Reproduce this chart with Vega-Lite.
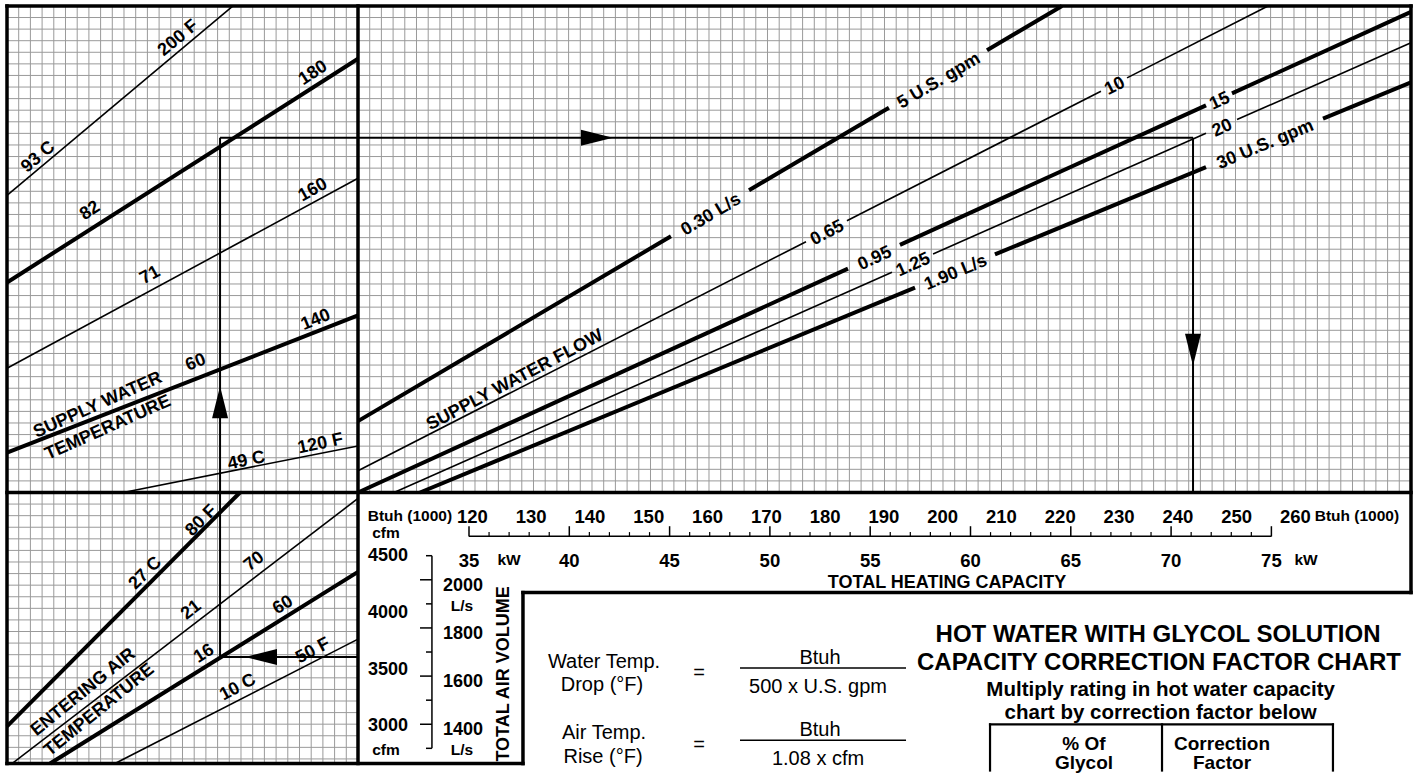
{
"$schema":"https://vega.github.io/schema/vega-lite/v6.json",
"width":1421,"height":773,
"autosize":{"type":"fit","contains":"padding"},
"padding":0,
"background":"white",
"config":{"view":{"stroke":null},"text":{"font":"Liberation Sans"}},
"resolve":{"scale":{"x":"independent","y":"independent"}},
"datasets":{
"frame":[
{"x":0,"y":0,"x2":120,"y2":0},{"x":0,"y":0,"x2":0,"y2":65.4},{"x":120,"y":0,"x2":120,"y2":50.64},
{"x":30,"y":0,"x2":30,"y2":65.4},{"x":0,"y":42,"x2":120,"y2":42},{"x":44.1,"y":50.64,"x2":120,"y2":50.64},
{"x":44.1,"y":50.64,"x2":44.1,"y2":65.4},{"x":0,"y":65.4,"x2":44.1,"y2":65.4}],
"curves":[
{"line":"200 F","w":"light","x":0,"y":16.36,"x2":19.32,"y2":0},
{"line":"180 F","w":"heavy","x":0,"y":23.87,"x2":30,"y2":4.56},
{"line":"160 F","w":"light","x":0,"y":31.28,"x2":30,"y2":14.88},
{"line":"140 F","w":"heavy","x":0,"y":38.55,"x2":30,"y2":26.72},
{"line":"120 F","w":"light","x":9.94,"y":42,"x2":30,"y2":37.98},
{"line":"80 F","w":"heavy","x":0,"y":62.19,"x2":19.91,"y2":42},
{"line":"70 F","w":"light","x":0.43,"y":65.4,"x2":30,"y2":42.51},
{"line":"60 F","w":"heavy","x":3.68,"y":65.4,"x2":30,"y2":48.85},
{"line":"50 F","w":"light","x":9.23,"y":65.4,"x2":30,"y2":54.66},
{"line":"5 gpm","w":"heavy","x":30,"y":35.84,"x2":56.75,"y2":19.88},
{"line":"5 gpm","w":"heavy","x":63.42,"y":15.91,"x2":75.38,"y2":8.79},
{"line":"5 gpm","w":"heavy","x":83.76,"y":3.82,"x2":90.17,"y2":0},
{"line":"10 gpm","w":"light","x":30,"y":40.12,"x2":68.29,"y2":20.35},
{"line":"10 gpm","w":"light","x":71.79,"y":18.54,"x2":93.5,"y2":7.36},
{"line":"10 gpm","w":"light","x":95.73,"y":6.21,"x2":107.78,"y2":0},
{"line":"15 gpm","w":"heavy","x":30,"y":42,"x2":71.88,"y2":22.67},
{"line":"15 gpm","w":"heavy","x":76.32,"y":20.62,"x2":102.48,"y2":8.58},
{"line":"15 gpm","w":"heavy","x":104.7,"y":7.55,"x2":120,"y2":0.51},
{"line":"20 gpm","w":"light","x":33.08,"y":42,"x2":75.64,"y2":22.99},
{"line":"20 gpm","w":"light","x":79.15,"y":21.42,"x2":102.48,"y2":10.99},
{"line":"20 gpm","w":"light","x":105.13,"y":9.81,"x2":120,"y2":3.17},
{"line":"30 gpm","w":"heavy","x":35.3,"y":42,"x2":77.61,"y2":24.31},
{"line":"30 gpm","w":"heavy","x":84.44,"y":21.45,"x2":102.48,"y2":13.91},
{"line":"30 gpm","w":"heavy","x":112.48,"y":9.73,"x2":120,"y2":6.59}],
"guide":[
{"x":18.21,"y":11.38,"x2":18.21,"y2":56.2},{"x":18.21,"y":11.38,"x2":101.37,"y2":11.38},
{"x":101.37,"y":11.38,"x2":101.37,"y2":42},{"x":18.21,"y":56.2,"x2":30,"y2":56.2}],
"arrows":[{"dir":"right","x":50.43,"y":11.38},{"dir":"up","x":18.21,"y":34.22},{"dir":"left","x":21.71,"y":56.2},{"dir":"down","x":101.37,"y":29.68}],
"thin":[
{"x":62.65,"y":57.14,"x2":76.84,"y2":57.14},{"x":62.65,"y":63.39,"x2":76.84,"y2":63.39}],
"table":[
{"x":84.02,"y":62.02,"x2":113.33,"y2":62.02},{"x":84.02,"y":62.02,"x2":84.02,"y2":66},
{"x":98.72,"y":62.02,"x2":98.72,"y2":66},{"x":113.33,"y":62.02,"x2":113.33,"y2":66}],
"labels":[
{"t":"200 F","x":14.53,"y":2.65,"a":320},
{"t":"93 C","x":2.56,"y":12.92,"a":320},
{"t":"180","x":26.07,"y":5.65,"a":327},
{"t":"82","x":7.01,"y":17.54,"a":327},
{"t":"160","x":26.07,"y":15.74,"a":331},
{"t":"71","x":12.14,"y":23.1,"a":331},
{"t":"140","x":26.32,"y":26.95,"a":338},
{"t":"60","x":16.07,"y":30.62,"a":338},
{"t":"SUPPLY WATER","x":7.69,"y":34.3,"a":336},
{"t":"TEMPERATURE","x":8.55,"y":36.27,"a":336},
{"t":"49 C","x":20.43,"y":39.09,"a":348},
{"t":"120 F","x":26.75,"y":37.64,"a":348},
{"t":"80 F","x":16.5,"y":44.31,"a":315},
{"t":"27 C","x":11.71,"y":48.85,"a":315},
{"t":"70","x":21.03,"y":47.82,"a":322},
{"t":"21","x":15.64,"y":52.01,"a":322},
{"t":"60","x":23.5,"y":51.58,"a":327.5},
{"t":"16","x":16.75,"y":55.77,"a":327.5},
{"t":"50 F","x":26.07,"y":55.52,"a":332},
{"t":"10 C","x":19.66,"y":58.68,"a":332},
{"t":"ENTERING AIR","x":6.41,"y":59.11,"a":321},
{"t":"TEMPERATURE","x":7.78,"y":60.65,"a":321},
{"t":"0.30 L/s","x":60.09,"y":17.88,"a":329.3},
{"t":"5 U.S. gpm","x":79.57,"y":6.33,"a":329.3},
{"t":"0.65","x":70.04,"y":19.44,"a":332.8},
{"t":"10","x":94.62,"y":6.78,"a":332.8},
{"t":"0.95","x":74.1,"y":21.65,"a":335.3},
{"t":"15","x":103.59,"y":8.07,"a":335.3},
{"t":"1.25","x":77.39,"y":22.2,"a":335.9},
{"t":"20","x":103.8,"y":10.4,"a":335.9},
{"t":"1.90 L/s","x":81.03,"y":22.88,"a":337.3},
{"t":"30 U.S. gpm","x":107.48,"y":11.82,"a":337.3},
{"t":"SUPPLY WATER FLOW","x":43.33,"y":32.16,"a":332.2}],
"units":[
{"t":"Btuh (1000)","x":34.44,"y":43.63},{"t":"Btuh (1000)","x":115.38,"y":43.63},
{"t":"kW","x":42.91,"y":47.39},{"t":"kW","x":111.03,"y":47.39},
{"t":"cfm","x":32.39,"y":45.08},{"t":"cfm","x":32.39,"y":63.82},
{"t":"L/s","x":38.89,"y":51.33},{"t":"L/s","x":38.89,"y":63.82}],
"axisTitles":[{"t":"TOTAL HEATING CAPACITY","x":80.34,"y":49.27,"a":0},{"t":"TOTAL AIR VOLUME","x":41.97,"y":57.66,"a":270}],
"formula":[
{"t":"Water Temp.","x":51.03,"y":56.03},{"t":"Drop (°F)","x":50.85,"y":58.0},{"t":"=","x":59.15,"y":56.97},
{"t":"Btuh","x":69.49,"y":55.69},{"t":"500 x U.S. gpm","x":69.32,"y":58.17},
{"t":"Air Temp.","x":51.03,"y":62.19},{"t":"Rise (°F)","x":50.94,"y":64.24},{"t":"=","x":59.15,"y":63.22},
{"t":"Btuh","x":69.49,"y":61.93},{"t":"1.08 x cfm","x":69.32,"y":64.41}],
"title":[{"t":"HOT WATER WITH GLYCOL SOLUTION","x":98.38,"y":53.64},{"t":"CAPACITY CORRECTION FACTOR CHART","x":98.46,"y":56.03}],
"subtitle":[{"t":"Multiply rating in hot water capacity","x":98.6,"y":58.43},{"t":"chart by correction factor below","x":98.6,"y":60.39}],
"tableText":[{"t":"% Of","x":92.05,"y":63.22},{"t":"Glycol","x":92.05,"y":64.84},{"t":"Correction","x":103.85,"y":63.22},{"t":"Factor","x":103.85,"y":64.84}]
},
"layer":[
{"data":{"values":[31,32,33,34,35,36,37,38,39,40,41,42,43,44,45,46,47,48,49,50,51,52,53,54,55,56,57,58,59,60,61,62,63,64,65,66,67,68,69,70,71,72,73,74,75,76,77,78,79,80,81,82,83,84,85,86,87,88,89,90,91,92,93,94,95,96,97,98,99,100,101,102,103,104,105,106,107,108,109,110,111,112,113,114,115,116,117,118,119]},
 "mark":{"type":"rule","stroke":"#9a9a9a","strokeWidth":1},
 "encoding":{"x":{"field":"data","type":"quantitative","scale":{"domain":[-0.598,120.855],"nice":false,"zero":false},"axis":null},
  "y":{"datum":0,"type":"quantitative","scale":{"domain":[-0.513,65.61],"nice":false,"zero":false,"reverse":true},"axis":null},"y2":{"datum":42}}},
{"data":{"values":[1,2,3,4,5,6,7,8,9,10,11,12,13,14,15,16,17,18,19,20,21,22,23,24,25,26,27,28,29]},
 "mark":{"type":"rule","stroke":"#9a9a9a","strokeWidth":1},
 "encoding":{"x":{"field":"data","type":"quantitative","scale":{"domain":[-0.598,120.855],"nice":false,"zero":false},"axis":null},
  "y":{"datum":0,"type":"quantitative","scale":{"domain":[-0.513,65.61],"nice":false,"zero":false,"reverse":true},"axis":null},"y2":{"datum":65.4}}},
{"data":{"values":[1,2,3,4,5,6,7,8,9,10,11,12,13,14,15,16,17,18,19,20,21,22,23,24,25,26,27,28,29,30,31,32,33,34,35,36,37,38,39,40,41]},
 "mark":{"type":"rule","stroke":"#9a9a9a","strokeWidth":1},
 "encoding":{"y":{"field":"data","type":"quantitative","scale":{"domain":[-0.513,65.61],"nice":false,"zero":false,"reverse":true},"axis":null},
  "x":{"datum":0,"type":"quantitative","scale":{"domain":[-0.598,120.855],"nice":false,"zero":false},"axis":null},"x2":{"datum":120}}},
{"data":{"values":[43,44,45,46,47,48,49,50,51,52,53,54,55,56,57,58,59,60,61,62,63,64,65]},
 "mark":{"type":"rule","stroke":"#9a9a9a","strokeWidth":1},
 "encoding":{"y":{"field":"data","type":"quantitative","scale":{"domain":[-0.513,65.61],"nice":false,"zero":false,"reverse":true},"axis":null},
  "x":{"datum":0,"type":"quantitative","scale":{"domain":[-0.598,120.855],"nice":false,"zero":false},"axis":null},"x2":{"datum":30}}},
{"data":{"name":"frame"},"mark":{"type":"rule","stroke":"black","strokeWidth":3.5,"strokeCap":"square"},
 "encoding":{"x":{"field":"x","type":"quantitative","scale":{"domain":[-0.598,120.855],"nice":false,"zero":false},"axis":null},
  "y":{"field":"y","type":"quantitative","scale":{"domain":[-0.513,65.61],"nice":false,"zero":false,"reverse":true},"axis":null},
  "x2":{"field":"x2"},"y2":{"field":"y2"}}},
{"data":{"name":"curves"},"mark":{"type":"rule","stroke":"black"},
 "encoding":{"x":{"field":"x","type":"quantitative","scale":{"domain":[-0.598,120.855],"nice":false,"zero":false},"axis":null},
  "y":{"field":"y","type":"quantitative","scale":{"domain":[-0.513,65.61],"nice":false,"zero":false,"reverse":true},"axis":null},
  "x2":{"field":"x2"},"y2":{"field":"y2"},
  "strokeWidth":{"field":"w","type":"nominal","scale":{"domain":["heavy","light"],"range":[4,1.6]},"legend":null}}},
{"data":{"name":"guide"},"mark":{"type":"rule","stroke":"black","strokeWidth":2},
 "encoding":{"x":{"field":"x","type":"quantitative","scale":{"domain":[-0.598,120.855],"nice":false,"zero":false},"axis":null},
  "y":{"field":"y","type":"quantitative","scale":{"domain":[-0.513,65.61],"nice":false,"zero":false,"reverse":true},"axis":null},
  "x2":{"field":"x2"},"y2":{"field":"y2"}}},
{"data":{"name":"thin"},"mark":{"type":"rule","stroke":"black","strokeWidth":1.5},
 "encoding":{"x":{"field":"x","type":"quantitative","scale":{"domain":[-0.598,120.855],"nice":false,"zero":false},"axis":null},
  "y":{"field":"y","type":"quantitative","scale":{"domain":[-0.513,65.61],"nice":false,"zero":false,"reverse":true},"axis":null},
  "x2":{"field":"x2"},"y2":{"field":"y2"}}},
{"data":{"name":"table"},"mark":{"type":"rule","stroke":"black","strokeWidth":2.2,"strokeCap":"square"},
 "encoding":{"x":{"field":"x","type":"quantitative","scale":{"domain":[-0.598,120.855],"nice":false,"zero":false},"axis":null},
  "y":{"field":"y","type":"quantitative","scale":{"domain":[-0.513,65.61],"nice":false,"zero":false,"reverse":true},"axis":null},
  "x2":{"field":"x2"},"y2":{"field":"y2"}}},
{"data":{"name":"arrows"},"mark":{"type":"point","filled":true,"color":"black","opacity":1,"size":1024,"strokeWidth":0},
 "encoding":{"x":{"field":"x","type":"quantitative","scale":{"domain":[-0.598,120.855],"nice":false,"zero":false},"axis":null},
  "y":{"field":"y","type":"quantitative","scale":{"domain":[-0.513,65.61],"nice":false,"zero":false,"reverse":true},"axis":null},
  "shape":{"field":"dir","type":"nominal","scale":{"domain":["right","left","up","down"],"range":["M1,0L-1,-0.5L-1,0.5Z","M-1,0L1,-0.5L1,0.5Z","M0,-1L-0.5,1L0.5,1Z","M0,1L-0.5,-1L0.5,-1Z"]},"legend":null}}},
{"data":{"values":[{"from":35,"to":75}]},"mark":{"type":"rule","stroke":"black","strokeWidth":1.5},
 "encoding":{"x":{"field":"from","type":"quantitative","scale":{"domain":[11.62,82.458],"nice":false,"zero":false},"axis":null},"x2":{"field":"to"},
  "y":{"datum":45.77,"type":"quantitative","scale":{"domain":[-0.513,65.61],"nice":false,"zero":false,"reverse":true},"axis":null}}},
{"data":{"values":[35,40,45,50,55,60,65,70,75]},"mark":{"type":"rule","stroke":"black","strokeWidth":1.5},
 "encoding":{"x":{"field":"data","type":"quantitative","scale":{"domain":[11.62,82.458],"nice":false,"zero":false},"axis":null},
  "y":{"datum":45.8,"type":"quantitative","scale":{"domain":[-0.513,65.61],"nice":false,"zero":false,"reverse":true},"axis":null},"y2":{"datum":44.91}}},
{"data":{"values":[36,37,38,39,41,42,43,44,46,47,48,49,51,52,53,54,56,57,58,59,61,62,63,64,66,67,68,69,71,72,73,74]},"mark":{"type":"rule","stroke":"black","strokeWidth":1.2},
 "encoding":{"x":{"field":"data","type":"quantitative","scale":{"domain":[11.62,82.458],"nice":false,"zero":false},"axis":null},
  "y":{"datum":45.8,"type":"quantitative","scale":{"domain":[-0.513,65.61],"nice":false,"zero":false,"reverse":true},"axis":null},"y2":{"datum":45.42}}},
{"data":{"values":[{"kW":35},{"kW":40},{"kW":45},{"kW":50},{"kW":55},{"kW":60},{"kW":65},{"kW":70},{"kW":75}]},
 "mark":{"type":"text","fontWeight":"bold","fontSize":18.5,"align":"center","baseline":"middle","dy":6},
 "encoding":{"x":{"field":"kW","type":"quantitative","scale":{"domain":[11.62,82.458],"nice":false,"zero":false},"axis":null},
  "y":{"datum":47.39,"type":"quantitative","scale":{"domain":[-0.513,65.61],"nice":false,"zero":false,"reverse":true},"axis":null},
  "text":{"field":"kW","type":"quantitative","format":"d"}}},
{"data":{"values":[{"kBtuh":120},{"kBtuh":130},{"kBtuh":140},{"kBtuh":150},{"kBtuh":160},{"kBtuh":170},{"kBtuh":180},{"kBtuh":190},{"kBtuh":200},{"kBtuh":210},{"kBtuh":220},{"kBtuh":230},{"kBtuh":240},{"kBtuh":250},{"kBtuh":260}]},
 "mark":{"type":"text","fontWeight":"bold","fontSize":18.5,"align":"center","baseline":"middle","dy":6},
 "encoding":{"x":{"field":"kBtuh","type":"quantitative","scale":{"domain":[39.649,281.36],"nice":false,"zero":false},"axis":null},
  "y":{"datum":43.63,"type":"quantitative","scale":{"domain":[-0.513,65.61],"nice":false,"zero":false,"reverse":true},"axis":null},
  "text":{"field":"kBtuh","type":"quantitative","format":"d"}}},
{"data":{"values":[{"cfm":4500},{"cfm":4000},{"cfm":3500},{"cfm":3000}]},
 "mark":{"type":"text","fontWeight":"bold","fontSize":18,"align":"center","baseline":"middle","dy":6},
 "encoding":{"y":{"field":"cfm","type":"quantitative","scale":{"domain":[2599,9340],"nice":false,"zero":false},"axis":null},
  "x":{"datum":32.56,"type":"quantitative","scale":{"domain":[-0.598,120.855],"nice":false,"zero":false},"axis":null},
  "text":{"field":"cfm","type":"quantitative","format":"d"}}},
{"data":{"values":[{"ls":2000},{"ls":1800},{"ls":1600},{"ls":1400}]},
 "mark":{"type":"text","fontWeight":"bold","fontSize":18,"align":"center","baseline":"middle","dy":6},
 "encoding":{"y":{"field":"ls","type":"quantitative","scale":{"domain":[1226.6,4408],"nice":false,"zero":false},"axis":null},
  "x":{"datum":38.97,"type":"quantitative","scale":{"domain":[-0.598,120.855],"nice":false,"zero":false},"axis":null},
  "text":{"field":"ls","type":"quantitative","format":"d"}}},
{"data":{"values":[{"from":2100,"to":1300}]},"mark":{"type":"rule","stroke":"black","strokeWidth":1.5},
 "encoding":{"y":{"field":"from","type":"quantitative","scale":{"domain":[1226.6,4408],"nice":false,"zero":false},"axis":null},"y2":{"field":"to"},
  "x":{"datum":36.32,"type":"quantitative","scale":{"domain":[-0.598,120.855],"nice":false,"zero":false},"axis":null}}},
{"data":{"values":[2000,1800,1600,1400]},"mark":{"type":"rule","stroke":"black","strokeWidth":1.5},
 "encoding":{"y":{"field":"data","type":"quantitative","scale":{"domain":[1226.6,4408],"nice":false,"zero":false},"axis":null},
  "x":{"datum":35.3,"type":"quantitative","scale":{"domain":[-0.598,120.855],"nice":false,"zero":false},"axis":null},"x2":{"datum":36.32}}},
{"data":{"values":[2100,1900,1700,1500,1300]},"mark":{"type":"rule","stroke":"black","strokeWidth":1.5},
 "encoding":{"y":{"field":"data","type":"quantitative","scale":{"domain":[1226.6,4408],"nice":false,"zero":false},"axis":null},
  "x":{"datum":35.81,"type":"quantitative","scale":{"domain":[-0.598,120.855],"nice":false,"zero":false},"axis":null},"x2":{"datum":36.32}}},
{"data":{"name":"labels"},"mark":{"type":"text","fontWeight":"bold","fontSize":18,"align":"center","baseline":"middle","dy":2},
 "encoding":{"x":{"field":"x","type":"quantitative","scale":{"domain":[-0.598,120.855],"nice":false,"zero":false},"axis":null},
  "y":{"field":"y","type":"quantitative","scale":{"domain":[-0.513,65.61],"nice":false,"zero":false,"reverse":true},"axis":null},
  "text":{"field":"t"},"angle":{"field":"a","type":"quantitative","scale":null}}},
{"data":{"name":"units"},"mark":{"type":"text","fontWeight":"bold","fontSize":15.5,"align":"center","baseline":"middle","dy":5},
 "encoding":{"x":{"field":"x","type":"quantitative","scale":{"domain":[-0.598,120.855],"nice":false,"zero":false},"axis":null},
  "y":{"field":"y","type":"quantitative","scale":{"domain":[-0.513,65.61],"nice":false,"zero":false,"reverse":true},"axis":null},
  "text":{"field":"t"}}},
{"data":{"name":"axisTitles"},"mark":{"type":"text","fontWeight":"bold","fontSize":18,"align":"center","baseline":"middle","dy":6},
 "encoding":{"x":{"field":"x","type":"quantitative","scale":{"domain":[-0.598,120.855],"nice":false,"zero":false},"axis":null},
  "y":{"field":"y","type":"quantitative","scale":{"domain":[-0.513,65.61],"nice":false,"zero":false,"reverse":true},"axis":null},
  "text":{"field":"t"},"angle":{"field":"a","type":"quantitative","scale":null}}},
{"data":{"name":"formula"},"mark":{"type":"text","fontSize":20,"align":"center","baseline":"middle","dy":7},
 "encoding":{"x":{"field":"x","type":"quantitative","scale":{"domain":[-0.598,120.855],"nice":false,"zero":false},"axis":null},
  "y":{"field":"y","type":"quantitative","scale":{"domain":[-0.513,65.61],"nice":false,"zero":false,"reverse":true},"axis":null},
  "text":{"field":"t"}}},
{"data":{"name":"title"},"mark":{"type":"text","fontWeight":"bold","fontSize":24,"align":"center","baseline":"middle","dy":8},
 "encoding":{"x":{"field":"x","type":"quantitative","scale":{"domain":[-0.598,120.855],"nice":false,"zero":false},"axis":null},
  "y":{"field":"y","type":"quantitative","scale":{"domain":[-0.513,65.61],"nice":false,"zero":false,"reverse":true},"axis":null},
  "text":{"field":"t"}}},
{"data":{"name":"subtitle"},"mark":{"type":"text","fontWeight":"bold","fontSize":20.5,"align":"center","baseline":"middle","dy":7},
 "encoding":{"x":{"field":"x","type":"quantitative","scale":{"domain":[-0.598,120.855],"nice":false,"zero":false},"axis":null},
  "y":{"field":"y","type":"quantitative","scale":{"domain":[-0.513,65.61],"nice":false,"zero":false,"reverse":true},"axis":null},
  "text":{"field":"t"}}},
{"data":{"name":"tableText"},"mark":{"type":"text","fontWeight":"bold","fontSize":19,"align":"center","baseline":"middle","dy":6},
 "encoding":{"x":{"field":"x","type":"quantitative","scale":{"domain":[-0.598,120.855],"nice":false,"zero":false},"axis":null},
  "y":{"field":"y","type":"quantitative","scale":{"domain":[-0.513,65.61],"nice":false,"zero":false,"reverse":true},"axis":null},
  "text":{"field":"t"}}}
]
}
